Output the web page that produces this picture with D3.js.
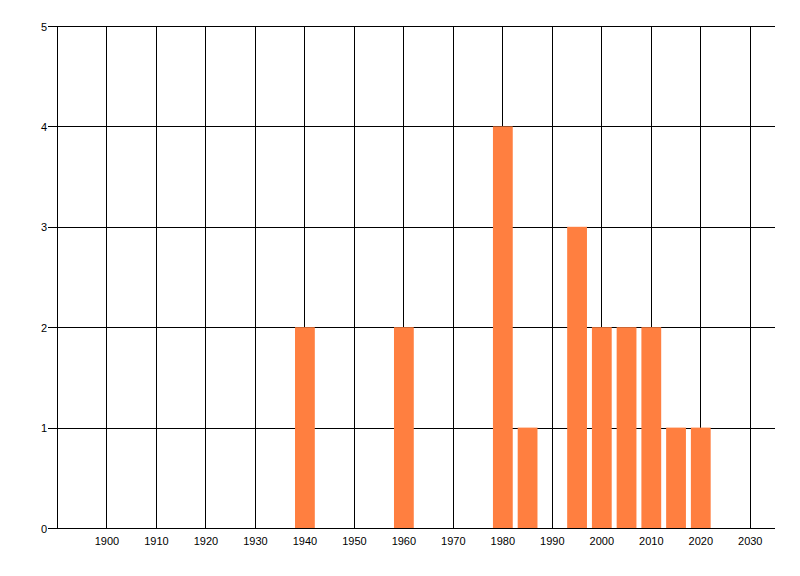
<!DOCTYPE html>
<html>
<head>
<meta charset="utf-8">
<script src="https://cdn.jsdelivr.net/npm/d3@7"></script>
<style>
  html, body { margin: 0; padding: 0; background: #fff; }
  svg { display: block; }
  text { font-family: "Liberation Sans", Arial, sans-serif; font-size: 11px; fill: #000; }
</style>
</head>
<body>
<svg id="chart" width="800" height="576"></svg>
<script>
const years = [1940, 1960, 1980, 1985, 1995, 2000, 2005, 2010, 2015, 2020];
const counts = [2, 2, 4, 1, 3, 2, 2, 2, 1, 1];
const xTicks = [1900, 1910, 1920, 1930, 1940, 1950, 1960, 1970, 1980, 1990, 2000, 2010, 2020, 2030];
const yTicks = [0, 1, 2, 3, 4, 5];

const svg = d3.select("#chart");
const x = d3.scaleLinear().domain([1890, 2035]).range([57.5, 775]);
const y = d3.scaleLinear().domain([0, 5]).range([528.5, 26.5]);
const cx = v => Math.round(x(v) - 0.5) + 0.5;
const cy = v => Math.round(y(v) - 0.5) + 0.5;

const grid = svg.append("g");
// horizontal gridlines
grid.selectAll("line.h").data(yTicks).enter().append("line")
  .attr("x1", 48).attr("x2", 775)
  .attr("y1", d => cy(d)).attr("y2", d => cy(d))
  .attr("stroke", "#000").attr("stroke-width", 1);
// vertical gridlines
grid.selectAll("line.v").data(xTicks).enter().append("line")
  .attr("x1", d => cx(d)).attr("x2", d => cx(d))
  .attr("y1", cy(5)).attr("y2", cy(0))
  .attr("stroke", "#000").attr("stroke-width", 1);
// left axis line
grid.append("line")
  .attr("x1", cx(1890)).attr("x2", cx(1890))
  .attr("y1", cy(5)).attr("y2", cy(0))
  .attr("stroke", "#000");

// bars
const data = years.map((yr, i) => ({ yr, v: counts[i] }));
svg.append("g").selectAll("rect").data(data).enter().append("rect")
  .attr("x", d => x(d.yr - 2))
  .attr("width", d => x(d.yr + 2) - x(d.yr - 2))
  .attr("y", d => y(d.v) - 0.5)
  .attr("height", d => y(0) - y(d.v) )
  .attr("fill", "#ff7f40");

// x labels
svg.append("g").selectAll("text").data(xTicks).enter().append("text")
  .attr("x", d => x(d)).attr("y", 545)
  .attr("text-anchor", "middle")
  .text(d => d);

// y labels
svg.append("g").selectAll("text").data(yTicks).enter().append("text")
  .attr("x", 47).attr("y", d => y(d) + 4)
  .attr("text-anchor", "end")
  .text(d => d);
</script>
</body>
</html>
